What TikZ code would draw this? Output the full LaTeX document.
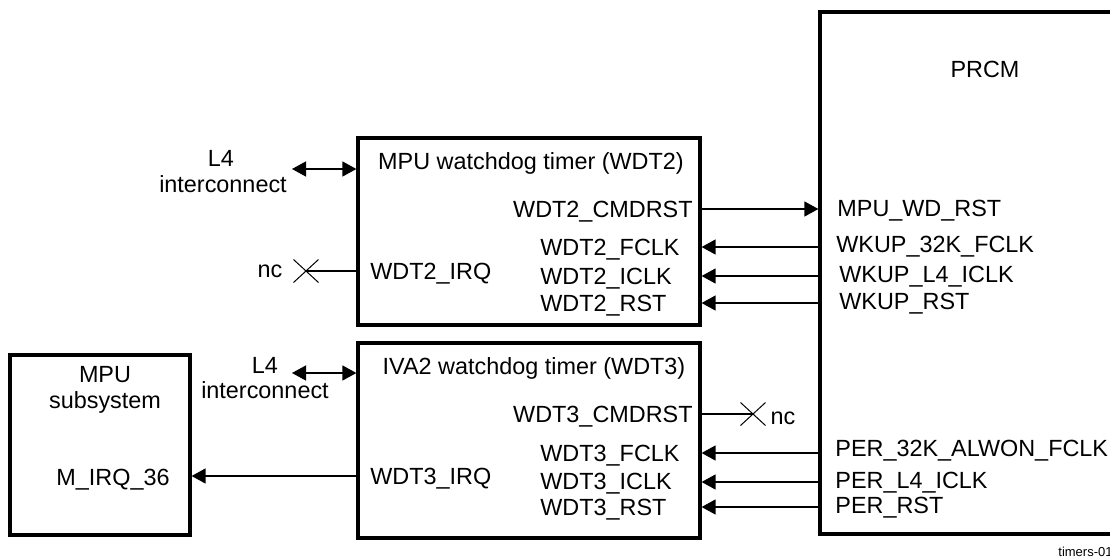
\documentclass[tikz,border=0pt]{standalone}
\usepackage{fontspec}
\setmainfont{Liberation Sans}
\usetikzlibrary{arrows.meta,fit,shapes.misc}
\begin{document}
\begin{tikzpicture}[x=0.5pt,y=-0.5pt,
  font=\fontsize{11.7}{14}\selectfont,
  box/.style={draw, line width=1.6pt, inner sep=0pt},
  lbl/.style={inner sep=0pt},
  conn/.style={line width=0.7pt},
  >={Triangle[length=7pt,width=7.5pt]},
  xmark/.style={cross out, draw, line width=0.5pt, minimum width=12pt, minimum height=11pt, inner sep=0pt}]
\clip (0,0) rectangle (1110,558);
% boxes
\node[box, fit={(358,138) (700,325)}] (wdt2) {};
\node[box, fit={(358,343) (700,538)}] (wdt3) {};
\node[box, fit={(10,355) (190,535)}] (mpu) {};
\node[box, fit={(820,12) (1130,534)}] (prcm) {};
% titles
\node[lbl, anchor=base] (t2) at (531,169) {MPU watchdog timer (WDT2)};
\node[lbl, anchor=base] (t3) at (534,374) {IVA2 watchdog timer (WDT3)};
\node[lbl, anchor=base] (tp) at (985,77) {PRCM};
\node[lbl, anchor=base] (tm1) at (105,382) {MPU};
\node[lbl, anchor=base] (tm2) at (105,408) {subsystem};
\node[lbl, anchor=base] (mirq) at (113,485) {M\_IRQ\_36};
% L4 labels
\node[lbl, anchor=base] (l4a) at (221,166) {L4};
\node[lbl, anchor=base] (ica) at (223,192) {interconnect};
\node[lbl, anchor=base] (l4b) at (265,373) {L4};
\node[lbl, anchor=base] (icb) at (265,398) {interconnect};
\coordinate (l4aend) at (292,169);
\coordinate (l4bend) at (292,373);
% WDT2 labels
\node[lbl, anchor=base east] (cmd2) at (693,217) {WDT2\_CMDRST};
\node[lbl, anchor=base west] (f2) at (540,255) {WDT2\_FCLK};
\node[lbl, anchor=base west] (i2) at (540,284) {WDT2\_ICLK};
\node[lbl, anchor=base west] (r2) at (540,311) {WDT2\_RST};
\node[lbl, anchor=base west] (irq2) at (370,279) {WDT2\_IRQ};
\node[lbl, anchor=base] (nc2) at (270,277) {nc};
\node[xmark] (x2) at (306,271) {};
% WDT3 labels
\node[lbl, anchor=base east] (cmd3) at (693,422) {WDT3\_CMDRST};
\node[lbl, anchor=base west] (f3) at (540,461) {WDT3\_FCLK};
\node[lbl, anchor=base west] (i3) at (540,489) {WDT3\_ICLK};
\node[lbl, anchor=base west] (r3) at (540,515) {WDT3\_RST};
\node[lbl, anchor=base west] (irq3) at (370,484) {WDT3\_IRQ};
\node[lbl, anchor=base] (nc3) at (783,424) {nc};
\node[xmark] (x3) at (753,414) {};
% PRCM labels
\node[lbl, anchor=base west] (p1) at (837,216) {MPU\_WD\_RST};
\node[lbl, anchor=base west] (p2) at (836,252) {WKUP\_32K\_FCLK};
\node[lbl, anchor=base west] (p3) at (839,282) {WKUP\_L4\_ICLK};
\node[lbl, anchor=base west] (p4) at (839,309) {WKUP\_RST};
\node[lbl, anchor=base west] (p5) at (835,456) {PER\_32K\_ALWON\_FCLK};
\node[lbl, anchor=base west] (p6) at (835,488) {PER\_L4\_ICLK};
\node[lbl, anchor=base west] (p7) at (835,513) {PER\_RST};
\node[lbl, anchor=base west, font=\fontsize{6.5}{8}\selectfont] (fig) at (1058,556) {timers-01};
% connector rows
\coordinate (yc2) at (0,209);
\coordinate (yf2) at (0,247);
\coordinate (yi2) at (0,276);
\coordinate (yr2) at (0,303);
\coordinate (yc3) at (0,414);
\coordinate (yf3) at (0,453);
\coordinate (yi3) at (0,482);
\coordinate (yr3) at (0,507);
\coordinate (yq3) at (0,476);
% connectors
\draw[conn, <->] (l4aend) -- (wdt2.west |- l4aend);
\draw[conn, <->] (l4bend) -- (wdt3.west |- l4bend);
\draw[conn, ->] (wdt2.east |- yc2) -- (prcm.west |- yc2);
\draw[conn, ->] (prcm.west |- yf2) -- (wdt2.east |- yf2);
\draw[conn, ->] (prcm.west |- yi2) -- (wdt2.east |- yi2);
\draw[conn, ->] (prcm.west |- yr2) -- (wdt2.east |- yr2);
\draw[conn] (wdt2.west |- x2) -- (x2.center);
\draw[conn] (wdt3.east |- x3) -- (x3.center);
\draw[conn, ->] (prcm.west |- yf3) -- (wdt3.east |- yf3);
\draw[conn, ->] (prcm.west |- yi3) -- (wdt3.east |- yi3);
\draw[conn, ->] (prcm.west |- yr3) -- (wdt3.east |- yr3);
\draw[conn, ->] (wdt3.west |- yq3) -- (mpu.east |- yq3);
\end{tikzpicture}
\end{document}
